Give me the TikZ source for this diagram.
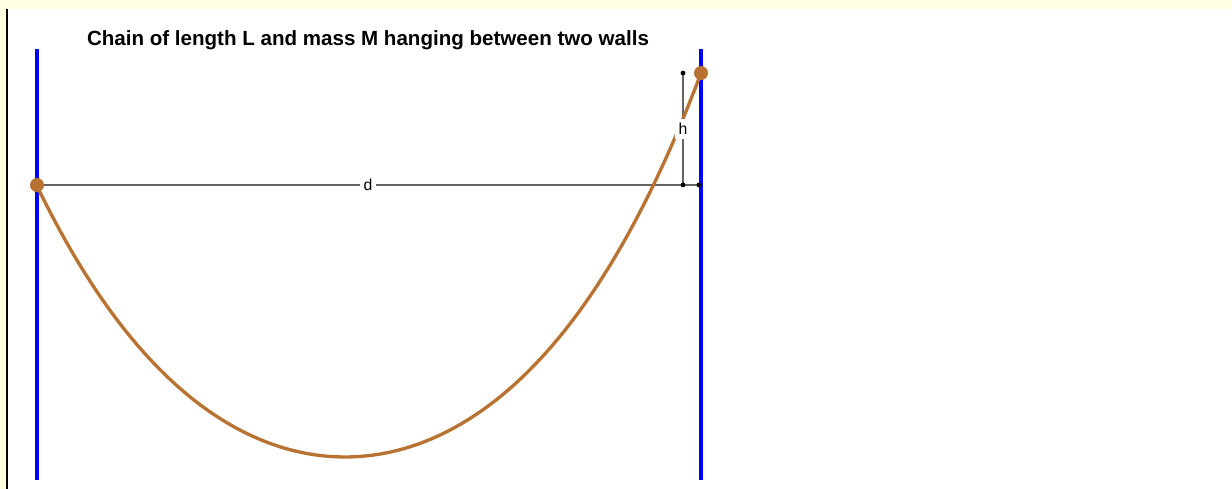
\documentclass[tikz,border=0pt]{standalone}
\usepackage{fontspec}
\setmainfont{Liberation Sans}
\definecolor{panelbg}{RGB}{255,254,225}
\definecolor{chaincol}{RGB}{184,115,51}
\definecolor{dimcol}{RGB}{100,100,100}
\tikzset{
  wall/.style={blue, line width=2.4pt},
  chain/.style={chaincol, line width=1.9pt},
  dimline/.style={dimcol, line width=0.8pt},
  dimdot/.style={circle, fill=black, inner sep=0pt, minimum size=2.8pt},
  chainend/.style={circle, fill=chaincol, inner sep=0pt, minimum size=8pt},
  dimlabel/.style={fill=white, inner sep=2.2pt, font=\fontsize{9}{10}\selectfont}
}
\begin{document}
\begin{tikzpicture}[x=0.02cm, y=0.02cm]
        \useasboundingbox (0,0) rectangle (1232,489);
        % panel frame
        \fill[panelbg] (0,480) rectangle (1232,489);
        \fill[panelbg] (0,0) rectangle (6,480);
        \draw[line width=1.4pt] (7,0) -- (7,480);
        % title
        \node[anchor=base, font=\bfseries\fontsize{11.7}{14}\selectfont] (title) at (368,443)
            {Chain of length L and mass M hanging between two walls};
        % walls
        \draw[wall] (37,9) -- (37,440);
        \draw[wall] (701,9) -- (701,440);
        % points
        \coordinate (left) at (37,304);
        \coordinate (right) at (701,416);
        \coordinate (dend) at (699,304);
        \coordinate (hbot) at (683,304);
        \coordinate (htop) at (683,416);
        % dimension lines
        \draw[dimline] (left) -- (dend) coordinate[pos=0.5] (dmid);
        \draw[dimline] (hbot) -- (htop) coordinate[pos=0.5] (hmid);
        \node[dimdot] (dotd) at (dend) {};
        \node[dimdot] (doth1) at (hbot) {};
        \node[dimdot] (doth2) at (htop) {};
        % chain
        \draw[chain, domain=37:701, samples=120, smooth] plot (\x, {32+209*(cosh((\x-345)/209)-1)});
        % labels
        \node[dimlabel] (dlab) at (dmid) {d};
        \node[dimlabel] (hlab) at (hmid) {h};
        % chain ends
        \node[chainend] (endA) at (left) {};
        \node[chainend] (endB) at (right) {};
\end{tikzpicture}
\end{document}
